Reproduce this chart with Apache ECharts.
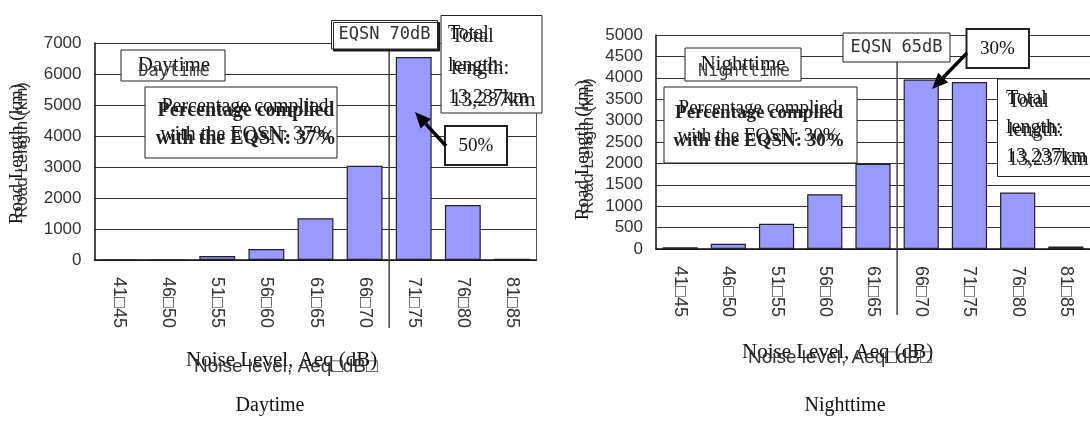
<!DOCTYPE html>
<html>
<head>
<meta charset="utf-8">
<title>Road length by noise level</title>
<script src="https://cdn.jsdelivr.net/npm/echarts@6/dist/echarts.min.js"></script>
<style>
  html, body { margin: 0; padding: 0; background: #fff; }
  #chart { width: 1090px; height: 421px; }
</style>
</head>
<body>
<div id="chart"></div>
<script>
// Noise level bands (dB)
const categories = ['41□45', '46□50', '51□55', '56□60', '61□65', '66□70', '71□75', '76□80', '81□85'];
// Road length (km) in each band
const dayLength = [0, 0, 130, 355, 1345, 3040, 6550, 1775, 40];
const nightLength = [40, 120, 590, 1280, 1990, 3960, 3900, 1320, 60];
// Value axis ranges
const dayAxis = { max: 7000, step: 1000 };
const nightAxis = { max: 5000, step: 500 };
// Environmental quality standard limits: band index where the limit falls
const dayLimitIndex = 6;   // between 66-70 and 71-75 (70 dB)
const nightLimitIndex = 5; // between 61-65 and 66-70 (65 dB)

const SERIF = '"Liberation Serif", "Times New Roman", serif';
const SANS = '"Liberation Sans", Arial, sans-serif';
const MONO = '"DejaVu Sans Mono", monospace';

const chart = echarts.init(document.getElementById('chart'), null, { renderer: 'canvas' });

function xAxisDef(gridIndex) {
  return {
    type: 'category', gridIndex, data: categories,
    axisLine: { lineStyle: { color: '#111', width: 1.5 } },
    axisTick: { show: false },
    axisLabel: { rotate: -90, margin: 17, fontFamily: SANS, fontSize: 18, color: '#333' },
    splitLine: { show: false }
  };
}
function yAxisDef(gridIndex, ax) {
  return {
    type: 'value', gridIndex, min: 0, max: ax.max, interval: ax.step,
    axisLine: { show: true, lineStyle: { color: '#111', width: 1.5 } },
    axisTick: { show: false },
    axisLabel: { margin: 13, fontFamily: SANS, fontSize: 17, color: '#333', formatter: v => String(v) },
    splitLine: { lineStyle: { color: '#333', width: 1 } }
  };
}
function barDef(idx, data) {
  return {
    type: 'bar', xAxisIndex: idx, yAxisIndex: idx, data,
    barCategoryGap: '27%',
    itemStyle: { color: '#9999ff', borderColor: '#222', borderWidth: 1.2 },
    silent: true, animation: false
  };
}

chart.setOption({
  animation: false,
  grid: [
    { left: 94.5, top: 43, width: 442, height: 217 },
    { left: 656, top: 35, width: 435, height: 214 }
  ],
  xAxis: [xAxisDef(0), xAxisDef(1)],
  yAxis: [yAxisDef(0, dayAxis), yAxisDef(1, nightAxis)],
  series: [barDef(0, dayLength), barDef(1, nightLength)]
});

// ---- annotation helpers ----
function box(x, y, w, h, lw, shadow) {
  const el = {
    type: 'rect', z: 100,
    shape: { x, y, width: w, height: h },
    style: { fill: '#fff', stroke: '#222', lineWidth: lw || 1 }
  };
  if (shadow) {
    el.style.shadowColor = 'rgba(0,0,0,0.85)';
    el.style.shadowOffsetX = 2;
    el.style.shadowOffsetY = 2;
    el.style.shadowBlur = 0;
  }
  return el;
}
function txt(text, x, y, font, size, opts) {
  opts = opts || {};
  return {
    type: 'text', z: 110, x, y, rotation: opts.rotation || 0,
    style: {
      text, fontFamily: font, fontSize: size, fill: opts.color || '#111',
      align: opts.align || 'center', verticalAlign: 'middle',
      fontWeight: opts.weight || 'normal', lineHeight: opts.lineHeight
    }
  };
}
function vline(x, y1, y2) {
  return { type: 'line', z: 90, shape: { x1: x, y1, x2: x, y2 }, style: { stroke: '#444', lineWidth: 1.5 } };
}
function arrow(x1, y1, x2, y2) {
  const ang = Math.atan2(y2 - y1, x2 - x1);
  const len = 16, half = 7;
  const bx = x2 - len * Math.cos(ang), by = y2 - len * Math.sin(ang);
  const px = -Math.sin(ang) * half, py = Math.cos(ang) * half;
  return [
    { type: 'line', z: 120, shape: { x1, y1, x2: bx, y2: by }, style: { stroke: '#000', lineWidth: 3.5 } },
    { type: 'polygon', z: 120, shape: { points: [[x2, y2], [bx + px, by + py], [bx - px, by - py]] }, style: { fill: '#000' } }
  ];
}

function boundaryX(gridIdx, idx) {
  const a = chart.convertToPixel({ xAxisIndex: gridIdx }, categories[idx - 1]);
  const b = chart.convertToPixel({ xAxisIndex: gridIdx }, categories[idx]);
  return (a + b) / 2;
}

const dayLimitX = boundaryX(0, dayLimitIndex);
const nightLimitX = boundaryX(1, nightLimitIndex);

const els = [];

// Day chart frame on the right side
els.push({ type: 'line', z: 5, shape: { x1: 536.5, y1: 43, x2: 536.5, y2: 260 }, style: { stroke: '#555', lineWidth: 1 } });

// ---- Daytime panel ----
els.push(txt('Road Length (km)', 17, 154, SERIF, 19, { rotation: Math.PI / 2 }));
els.push(txt('Road Length (km)', 22, 150, SANS, 17, { rotation: Math.PI / 2, color: '#333' }));

els.push(box(121, 50, 104, 31));
els.push(txt('Daytime', 174, 65, SERIF, 21));
els.push(txt('Daytime', 174, 72, MONO, 17, { color: '#444' }));

els.push(box(145, 87, 192, 71));
els.push(txt('Percentage complied\nwith the EQSN: 37%', 245, 121, SERIF, 20, { lineHeight: 28 }));
els.push(txt('Percentage complied\nwith the EQSN: 37%', 246, 125, SERIF, 20, { lineHeight: 28, weight: 'bold', color: '#222' }));

els.push(vline(dayLimitX, 49, 328));
els.push(box(331.5, 20.5, 106, 28.5, 1, true));
els.push(txt('EQSN 70dB', 384.5, 35, MONO, 17, { color: '#333' }));

els.push(box(441, 15.5, 101, 97.5));
els.push(txt('Total\nlength:\n13,237km', 448, 66, SERIF, 20, { align: 'left', lineHeight: 32 }));
els.push(txt('Total\nlength:\n13,237km', 451, 68, SERIF, 21, { align: 'left', lineHeight: 32, color: '#222' }));

els.push(box(445, 126, 62, 39, 2));
els.push(txt('50%', 476, 146, SERIF, 19));
els.push(...arrow(446, 146, 415, 112));

els.push(txt('Noise Level, Aeq (dB)', 186, 360, SERIF, 21, { align: 'left' }));
els.push(txt('Noise level, Aeq□dB□', 194, 367, SANS, 19, { align: 'left', color: '#333' }));
els.push(txt('Daytime', 270, 406, SERIF, 20));

// ---- Nighttime panel ----
els.push(txt('Road Length (km)', 583, 150, SERIF, 19, { rotation: Math.PI / 2 }));
els.push(txt('Road Length (km)', 588, 146, SANS, 17, { rotation: Math.PI / 2, color: '#333' }));

els.push(box(685, 48, 116, 33));
els.push(txt('Nighttime', 743, 64, SERIF, 21));
els.push(txt('Nighttime', 744, 72, MONO, 17, { color: '#444' }));

els.push(box(664, 87, 193, 76));
els.push(txt('Percentage complied\nwith the EQSN: 30%', 758, 122, SERIF, 19, { lineHeight: 28 }));
els.push(txt('Percentage complied\nwith the EQSN: 30%', 759, 127, SERIF, 19, { lineHeight: 28, weight: 'bold', color: '#222' }));

els.push(vline(nightLimitX, 62, 315));
els.push(box(843, 33, 107, 29, 1));
els.push(txt('EQSN 65dB', 896.5, 48, MONO, 17, { color: '#333' }));

els.push(box(966.5, 29, 62.5, 39, 2));
els.push(txt('30%', 997.5, 49, SERIF, 19));
els.push(...arrow(967, 53, 932, 89));

els.push(box(997.5, 79, 100, 97.5));
els.push(txt('Total\nlength:\n13,237km', 1006, 128, SERIF, 20, { align: 'left', lineHeight: 29 }));
els.push(txt('Total\nlength:\n13,237km', 1008, 131, SERIF, 20, { align: 'left', lineHeight: 29, color: '#222' }));

els.push(txt('Noise Level, Aeq (dB)', 742, 352, SERIF, 21, { align: 'left' }));
els.push(txt('Noise level, Aeq□dB□', 748, 358, SANS, 19, { align: 'left', color: '#333' }));
els.push(txt('Nighttime', 845, 406, SERIF, 20));

chart.setOption({ graphic: { elements: els } });
</script>
</body>
</html>
